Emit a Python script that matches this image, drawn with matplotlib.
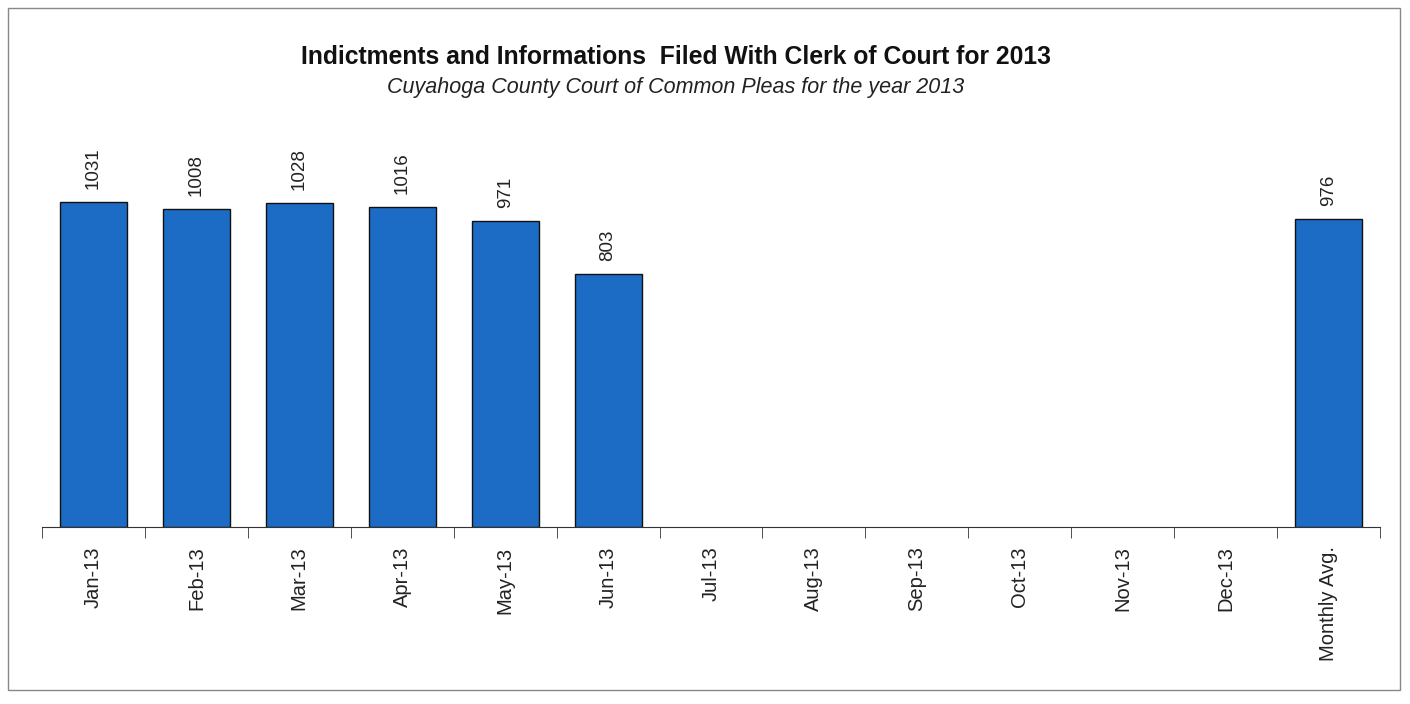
import matplotlib
matplotlib.use("Agg")
import matplotlib.pyplot as plt
import numpy as np
from matplotlib.patches import Rectangle

categories = ["Jan-13", "Feb-13", "Mar-13", "Apr-13", "May-13", "Jun-13", "Jul-13",
              "Aug-13", "Sep-13", "Oct-13", "Nov-13", "Dec-13", "Monthly Avg."]
values = [1031, 1008, 1028, 1016, 971, 803, None, None, None, None, None, None, 976]
title = "Indictments and Informations  Filed With Clerk of Court for 2013"
subtitle = "Cuyahoga County Court of Common Pleas for the year 2013"

font = ["Liberation Sans", "DejaVu Sans"]
plt.rcParams['font.family'] = font

fig = plt.figure(figsize=(14.1, 7.04), dpi=100)
ax = fig.add_axes([42/1410, 177/704, (1380-42)/1410, (527-133)/704])

x = np.arange(len(categories))
for xi, v in zip(x, values):
    if v is None:
        continue
    ax.bar(xi, v, width=0.65, color="#1c6cc6", edgecolor="#111111", linewidth=1.0)
    ax.text(xi, v + 42, str(v), rotation=90, ha="center", va="bottom",
            fontsize=13.5, color="#222222")

ax.set_xlim(-0.5, len(categories) - 0.5)
ax.set_ylim(0, 1250)
for s in ["top", "right", "left"]:
    ax.spines[s].set_visible(False)
ax.spines["bottom"].set_color("#333333")
ax.set_yticks([])
ax.set_xticks(x)
ax.set_xticklabels(categories, rotation=90, fontsize=14.5, color="#222222")
ax.tick_params(axis="x", which="major", length=0, pad=14)
ax.set_xticks(np.arange(-0.5, len(categories)), minor=True)
ax.tick_params(axis="x", which="minor", length=8, direction="out", color="#333333")

fig.text(676/1410, 1 - 57/704, title, ha="center", va="center", fontsize=17.8,
         fontweight="bold", color="#111111")
fig.text(676/1410, 1 - 87/704, subtitle, ha="center", va="center", fontsize=15.5,
         style="italic", color="#222222")

fig.patches.append(Rectangle((8/1410, 14/704), (1400-8)/1410, (696-14)/704,
                             transform=fig.transFigure, fill=False,
                             edgecolor="#888888", linewidth=1.0))

fig.savefig("out.png", dpi=100)
